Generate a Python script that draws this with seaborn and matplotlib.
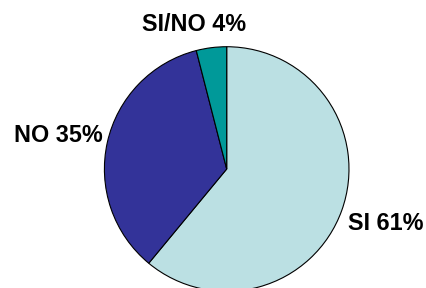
import matplotlib
matplotlib.use('Agg')
import matplotlib.pyplot as plt
import seaborn as sns

# Dati
categorie = ['SI', 'NO', 'SI/NO']
percentuali = [61, 35, 4]
colori = ['#BBE0E3', '#333399', '#009999']

# posizione etichette (in unità del raggio)
pos_etichette = [(1.301, -0.499), (-1.379, 0.223), (-0.269, 1.131)]

sns.set_style('white')
plt.rcParams['font.family'] = ['Liberation Sans', 'DejaVu Sans']

fig = plt.figure(figsize=(4.27, 2.88), dpi=100)
ax = fig.add_axes([0.2445, -0.0115, 0.5728, 0.8493])

palette = sns.color_palette(colori)
ax.pie(percentuali, colors=palette, startangle=90, counterclock=False,
       radius=1.0, wedgeprops={'edgecolor': 'black', 'linewidth': 0.8})
ax.set_xlim(-1.0, 1.0)
ax.set_ylim(-1.0, 1.0)
ax.set_aspect('equal')
ax.axis('off')

# Etichette
for cat, val, (x, y) in zip(categorie, percentuali, pos_etichette):
    ax.text(x, y, f'{cat} {val}%', ha='center', va='baseline',
            fontsize=16.8, fontweight='bold', color='black', clip_on=False)

fig.savefig('out.png', dpi=100)
